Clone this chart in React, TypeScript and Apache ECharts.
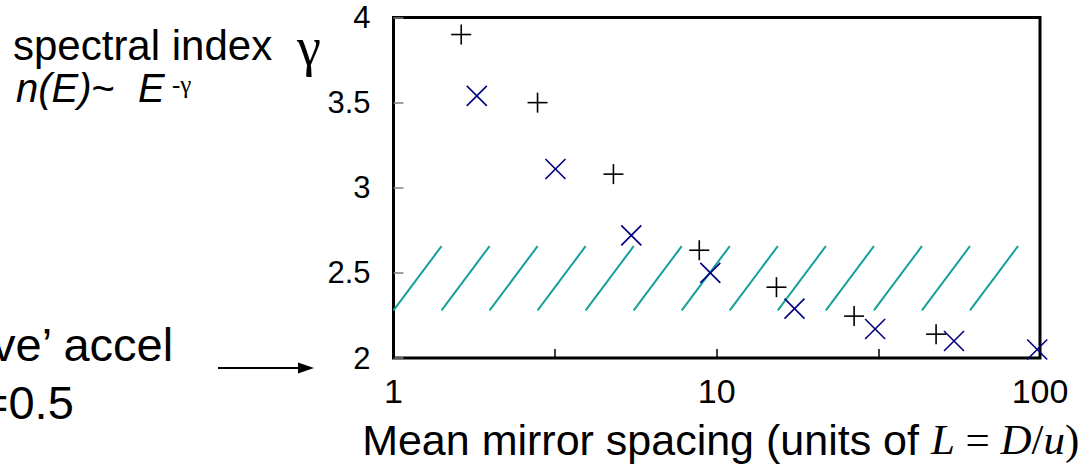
import React, { useEffect, useRef } from "react";
import * as echarts from "echarts";

// Data
const plusPoints: [number, number][] = [
  [1.62, 3.9],
  [2.79, 3.5],
  [4.79, 3.08],
  [8.83, 2.633],
  [15.3, 2.416],
  [26.6, 2.246],
  [47.7, 2.14],
];
const crossPoints: [number, number][] = [
  [1.81, 3.54],
  [3.17, 3.11],
  [5.44, 2.72],
  [9.55, 2.5],
  [17.4, 2.29],
  [30.9, 2.17],
  [54.2, 2.1],
  [98, 2.05],
];
// hatched band: [xStart, yLow, xEnd, yHigh]
const hatchBand: [number, number, number, number][] = [[1, 2.28, 85.5, 2.657]];
const hatchCount = 13;
const xTickLabels = [1, 10, 100];
const yMin = 2;
const yMax = 4;
const yInterval = 0.5;

export default function App() {
  const ref = useRef<HTMLDivElement>(null);
  useEffect(() => {
    if (!ref.current) return;
    const chart = echarts.init(ref.current, null, { renderer: "svg" });
    const sans = "Liberation Sans";
    const serif = "Liberation Serif";
    const option: any = {
      animation: false,
      backgroundColor: "#fff",
      grid: {
        left: 393.5,
        top: 17.5,
        right: 38,
        bottom: 108,
        containLabel: false,
        outerBoundsMode: "none",
        show: true,
        borderColor: "#000",
        borderWidth: 3,
        backgroundColor: "transparent",
      },
      xAxis: [
        {
          type: "log",
          logBase: 10,
          min: 1,
          max: 100,
          position: "bottom",
          axisLine: { show: false },
          axisTick: { show: false },
          splitLine: { show: false },
          axisLabel: {
            margin: 16,
            fontSize: 34,
            fontFamily: sans,
            color: "#000",
            formatter: (v: number) => (xTickLabels.includes(Math.round(v)) ? String(Math.round(v)) : ""),
          },
          name:
            "{a|Mean mirror spacing (units of }{i|L}{t| = }{i|D}{t|/}{i|u}{t|)}",
          nameLocation: "middle",
          nameGap: 60,
          nameTextStyle: {
            padding: [0, 0, 0, 8],
            rich: {
              a: { fontFamily: sans, fontSize: 43, color: "#000" },
              i: { fontFamily: serif, fontStyle: "italic", fontSize: 43, color: "#000" },
              t: { fontFamily: serif, fontSize: 43, color: "#000" },
            },
          },
        },
        {
          type: "value",
          min: 0,
          max: 2,
          interval: 0.5,
          position: "bottom",
          axisLine: { show: false },
          axisLabel: { show: false },
          splitLine: { show: false },
          axisTick: { show: true, inside: true, length: 9, lineStyle: { color: "#000", width: 1.5 } },
        },
      ],
      yAxis: {
        type: "value",
        min: yMin,
        max: yMax,
        interval: yInterval,
        axisLine: { show: false },
        splitLine: { show: false },
        axisTick: { show: true, inside: true, length: 10, lineStyle: { color: "#808080", width: 1.5 } },
        axisLabel: {
          margin: 23,
          fontSize: 31,
          fontFamily: sans,
          color: "#000",
          formatter: (v: number) => String(v),
        },
      },
      series: [
        {
          type: "custom",
          xAxisIndex: 0,
          yAxisIndex: 0,
          data: hatchBand,
          encode: { x: [0, 2], y: [1, 3] },
          renderItem: (params: any, api: any) => {
            const p0 = api.coord([api.value(0), api.value(1)]);
            const p1 = api.coord([api.value(2), api.value(3)]);
            const w = (p1[0] - p0[0]) / hatchCount;
            const children = [];
            for (let k = 0; k < hatchCount; k++) {
              children.push({
                type: "line",
                shape: { x1: p0[0] + k * w, y1: p0[1], x2: p0[0] + (k + 1) * w, y2: p1[1] },
                style: { stroke: "#16a09c", lineWidth: 2 },
              });
            }
            return { type: "group", children };
          },
        },
        {
          type: "custom",
          xAxisIndex: 0,
          yAxisIndex: 0,
          data: plusPoints,
          encode: { x: 0, y: 1 },
          renderItem: (params: any, api: any) => {
            const p = api.coord([api.value(0), api.value(1)]);
            const r = 10;
            const st = { stroke: "#000", lineWidth: 1.6 };
            return {
              type: "group",
              children: [
                { type: "line", shape: { x1: p[0] - r, y1: p[1], x2: p[0] + r, y2: p[1] }, style: st },
                { type: "line", shape: { x1: p[0], y1: p[1] - r, x2: p[0], y2: p[1] + r }, style: st },
              ],
            };
          },
        },
        {
          type: "custom",
          xAxisIndex: 0,
          yAxisIndex: 0,
          data: crossPoints,
          encode: { x: 0, y: 1 },
          renderItem: (params: any, api: any) => {
            const p = api.coord([api.value(0), api.value(1)]);
            const r = 10;
            const st = { stroke: "#000080", lineWidth: 1.6 };
            return {
              type: "group",
              children: [
                { type: "line", shape: { x1: p[0] - r, y1: p[1] - r, x2: p[0] + r, y2: p[1] + r }, style: st },
                { type: "line", shape: { x1: p[0] - r, y1: p[1] + r, x2: p[0] + r, y2: p[1] - r }, style: st },
              ],
            };
          },
        },
      ],
      graphic: [
        {
          type: "text",
          x: 13,
          y: 45,
          style: { text: "spectral index", font: `42px "${sans}"`, fill: "#000", verticalAlign: "middle" },
        },
        {
          type: "text",
          x: 297,
          y: 47,
          style: { text: "γ", font: `54px "${serif}"`, lineHeight: 40, fill: "#000", verticalAlign: "middle" },
        },
        {
          type: "text",
          x: 16,
          y: 88,
          style: {
            text: "{i|n}{i|(}{i|E}{i|)}{n|~}",
            fill: "#000",
            verticalAlign: "middle",
            rich: {
              i: { fontFamily: sans, fontStyle: "italic", fontSize: 40, lineHeight: 38, fill: "#000" },
              n: { fontFamily: sans, fontSize: 40, lineHeight: 38, fill: "#000" },
            },
          },
        },
        {
          type: "text",
          x: 138,
          y: 88,
          style: { text: "E", font: `italic 40px "${sans}"`, lineHeight: 38, fill: "#000", verticalAlign: "middle" },
        },
        {
          type: "text",
          x: 172,
          y: 84,
          style: { text: "-γ", font: `25px "${serif}"`, lineHeight: 20, fill: "#000", verticalAlign: "middle" },
        },
        {
          type: "text",
          x: -8,
          y: 344,
          style: { text: "ve’ accel", font: `47px "${sans}"`, fill: "#000", verticalAlign: "middle" },
        },
        {
          type: "text",
          x: -19,
          y: 402,
          style: { text: "=0.5", font: `47px "${sans}"`, fill: "#000", verticalAlign: "middle" },
        },
        {
          type: "line",
          shape: { x1: 218, y1: 368, x2: 300, y2: 368 },
          style: { stroke: "#000", lineWidth: 2 },
        },
        {
          type: "polygon",
          shape: { points: [[298, 362.5], [314, 368], [298, 373.5]] },
          style: { fill: "#000" },
        },
      ],
    };
    chart.setOption(option);
    return () => chart.dispose();
  }, []);
  return (
    <div
      ref={ref}
      style={{ position: "fixed", left: 0, top: 0, width: 1078, height: 466, background: "#fff" }}
    />
  );
}
